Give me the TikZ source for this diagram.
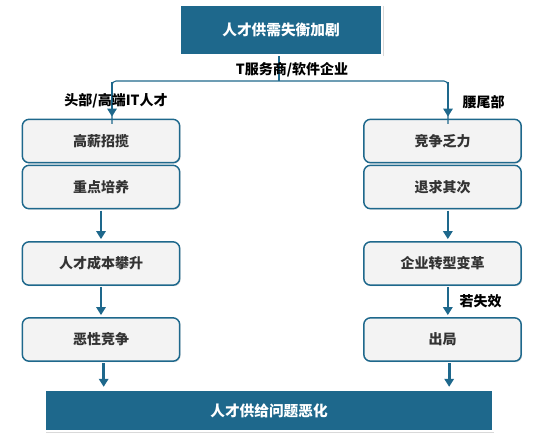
\documentclass[tikz,border=0pt]{standalone}
\usepackage{fontspec}
\newfontfamily\cjk{Noto Sans CJK SC}
\usetikzlibrary{arrows.meta, shadows}
\usepackage{xcolor}
\definecolor{deepblue}{RGB}{30,104,140}
\definecolor{boxgray}{RGB}{243,243,243}

\begin{document}
\begin{tikzpicture}[x=0.75pt,y=-0.75pt, >={Triangle[length=6pt,width=7pt]}]
    \tikzstyle{stage}=[rectangle, rounded corners=5pt, draw=deepblue, line width=1.1pt, fill=boxgray, minimum width=118pt, minimum height=32.5pt, text=black!80, font=\cjk\bfseries\fontsize{10.5}{12}\selectfont, drop shadow={opacity=0.25, shadow xshift=0.8pt, shadow yshift=-0.8pt}]
    \tikzstyle{headline}=[rectangle, fill=deepblue, draw=white, line width=1.5pt, text=white, font=\cjk\bfseries\fontsize{11}{13}\selectfont, drop shadow={opacity=0.3, shadow xshift=1pt, shadow yshift=-1pt}]
    \tikzstyle{flow}=[->, draw=deepblue, line width=2pt, shorten <=1pt, shorten >=1.5pt]
    \tikzstyle{split}=[draw=deepblue, line width=0.8pt, rounded corners=3pt]
    \tikzstyle{annot}=[font=\cjk\bfseries\fontsize{10.5}{12}\selectfont, text=black]

    \useasboundingbox (0,0) rectangle (553,437);

    \node[headline, minimum width=152pt, minimum height=37.5pt] (top) at (281,30) {人才供需失衡加剧};
    \node[headline, minimum width=336pt, minimum height=31pt] (bottom) at (269,410.5) {人才供给问题恶化};

    \foreach \name/\y/\ltext/\rtext in {1/141/高薪招揽/竞争乏力, 2/187/重点培养/退求其次, 3/263.5/人才成本攀升/企业转型变革, 4/339.5/恶性竞争/出局}{
        \node[stage] (L-\name) at (101,\y) {\ltext};
        \node[stage] (R-\name) at (442.5,\y) {\rtext};
    }

%   fork below the top box
    \coordinate (fork) at (279,81);
    \coordinate (forkL) at (112,81);
    \coordinate (forkR) at (448,81);
    \draw[split] (top.south -| fork) -- (fork);
    \draw[split] ([yshift=-4pt]L-1.north -| forkL) |- (fork) -| ([yshift=-4pt]R-1.north -| forkR);
    \draw[flow] (forkL) -- (L-1.north -| forkL);
    \draw[flow] (forkR) -- (R-1.north -| forkR);

    \draw[flow] (L-2) -- (L-3);
    \draw[flow] (L-3) -- (L-4);
    \draw[flow] ([xshift=2pt]L-4.south) -- ([xshift=2pt]L-4.south |- bottom.north);
    \draw[flow] ([xshift=4pt]R-2.south) -- ([xshift=4pt]R-3.north);
    \draw[flow] ([xshift=4pt]R-3.south) -- ([xshift=4pt]R-4.north);
    \draw[flow] ([xshift=5pt]R-4.south) -- ([xshift=5pt]R-4.south |- bottom.north);

    \node[annot] (lbl-it) at (292,70) {T服务商/软件企业};
    \node[annot] (lbl-head) at (116,101) {头部/高端IT人才};
    \node[annot, anchor=west] (lbl-tail) at (458,102) {腰尾部};
    \node[annot, anchor=west] (lbl-fail) at (455,301) {若失效};
\end{tikzpicture}
\end{document}
